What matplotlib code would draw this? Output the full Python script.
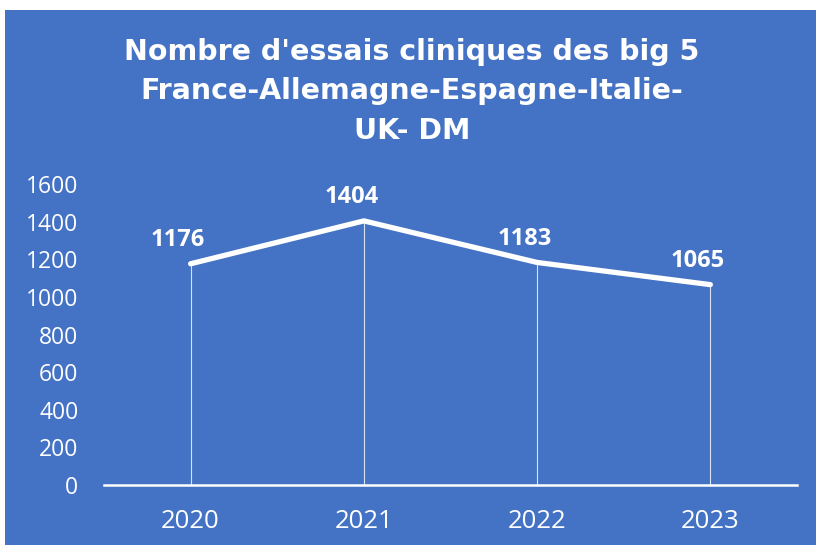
import matplotlib.pyplot as plt
from matplotlib.patches import Rectangle

years = ["2020", "2021", "2022", "2023"]
essais = [1176, 1404, 1183, 1065]
yticks = [0, 200, 400, 600, 800, 1000, 1200, 1400, 1600]

blue = "#4472C4"

fig = plt.figure(figsize=(8.16, 5.45), dpi=100, facecolor="white")
fig.patches.append(Rectangle((5 / 816, 0), 1, 1 - 10 / 545, transform=fig.transFigure,
                             facecolor=blue, edgecolor="none", zorder=-5))

ax = fig.add_axes([104 / 816, 60 / 545, 693 / 816, 301 / 545])
ax.set_facecolor("none")

x = [i + 0.5 for i in range(len(years))]
ax.plot(x, essais, color="white", linewidth=3.8, solid_capstyle="round", zorder=3)
ax.vlines(x, 0, essais, color="white", linewidth=0.8, alpha=0.8, zorder=2)

for xi, v in zip(x, essais):
    ax.annotate(str(v), (xi, v), xytext=(-9, 17), textcoords="offset points",
                ha="center", va="center", color="white", fontsize=17,
                fontweight="bold", family="Open Sans")

ax.set_xlim(0, len(years))
ax.set_ylim(0, 1600)
ax.set_xticks(x)
ax.set_xticklabels(years)
ax.set_yticks(yticks)
ax.tick_params(length=0, colors="white")
ax.tick_params(axis="x", pad=17, labelsize=18.5)
ax.tick_params(axis="y", pad=18.5, labelsize=16.5)
for lab in ax.get_xticklabels() + ax.get_yticklabels():
    lab.set_family("Open Sans")

for side in ["top", "right", "left"]:
    ax.spines[side].set_visible(False)
ax.spines["bottom"].set_color("white")
ax.spines["bottom"].set_linewidth(1.8)

title_lines = ["Nombre d'essais cliniques des big 5", "France-Allemagne-Espagne-Italie-", "UK- DM"]
for line, ypix in zip(title_lines, [52, 91, 131]):
    fig.text(412 / 816, 1 - ypix / 545, line, ha="center", va="center",
             color="white", fontsize=20.5, fontweight="bold", family="DejaVu Sans")

fig.savefig("out.png", dpi=100, facecolor="white")
